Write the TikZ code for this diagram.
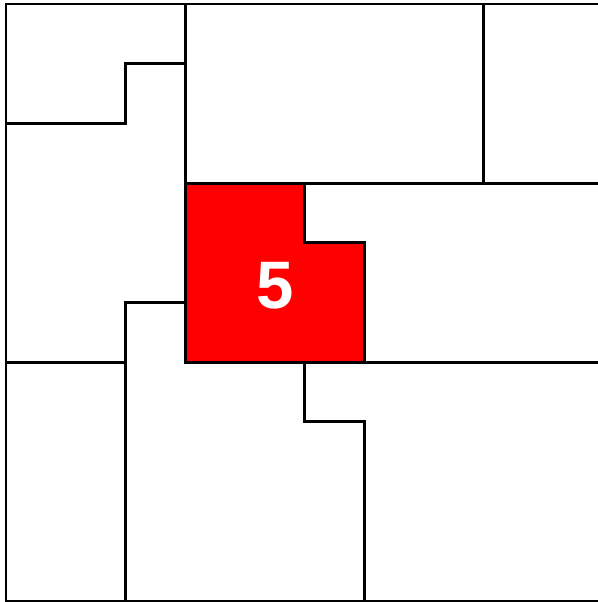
\documentclass[tikz,border=0pt]{standalone}
\usepackage{fontspec}
\setsansfont{Liberation Sans}
\usepackage{xcolor}
\usepackage{tikz}

\tikzset{
    wall/.style={line width=1.4pt, black, line cap=rect},
    plot/.style={fill=red},
}

\begin{document}
\begin{tikzpicture}[x=1cm, y=-1cm]
    \useasboundingbox (-0.1,-0.067) rectangle (9.916,10.017);

    % Highlighted plot 5
    \fill[plot] (3,3) -- (5,3) -- (5,4) -- (6,4) -- (6,6) -- (3,6) -- cycle;

    % Outer border
    \draw[wall] (10,0) -- (0,0) -- (0,10) -- (10,10);

    % Top left
    \draw[wall] (3,0) -- (3,6);
    \draw[wall] (0,2) -- (2,2) -- (2,1) -- (3,1);
    \draw[wall] (8,0) -- (8,3);
    \draw[wall] (3,3) -- (10,3);

    % Plot 5 outline
    \draw[wall] (5,3) -- (5,4) -- (6,4) -- (6,6);

    % Left and bottom
    \draw[wall] (3,5) -- (2,5) -- (2,10);
    \draw[wall] (0,6) -- (2,6);
    \draw[wall] (3,6) -- (10,6);
    \draw[wall] (5,6) -- (5,7) -- (6,7) -- (6,10);

    % Label
    \node[text=white, font=\sffamily\bfseries\fontsize{32}{36}\selectfont] (five) at (4.51,4.72) {5};
\end{tikzpicture}
\end{document}
